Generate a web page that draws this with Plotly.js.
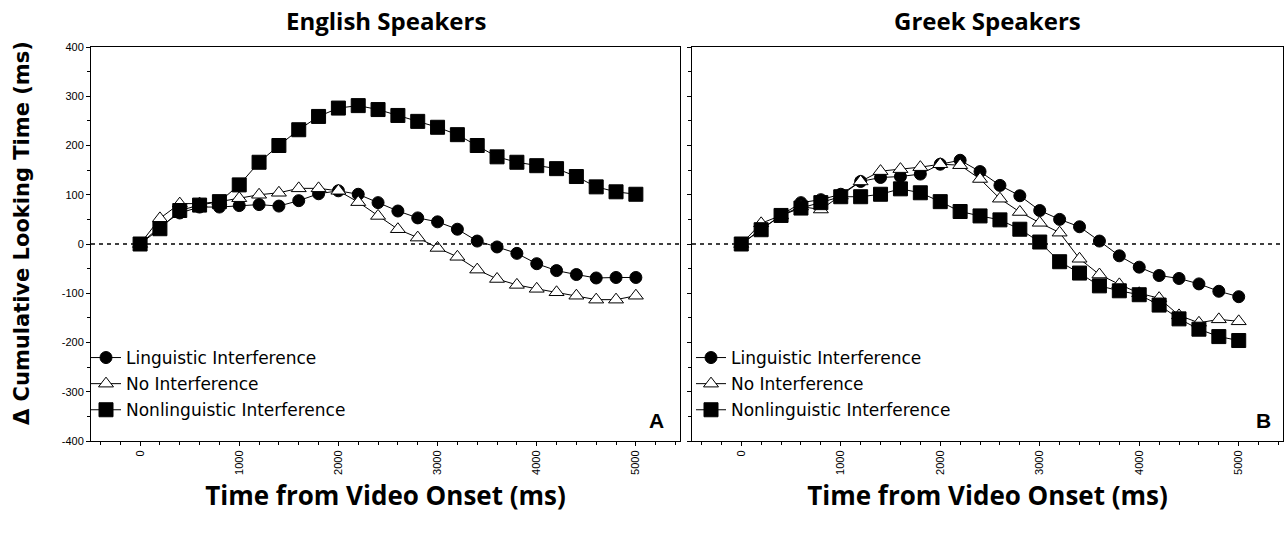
<!DOCTYPE html>
<html>
<head>
<meta charset="utf-8">
<script src="https://cdn.plot.ly/plotly-3.0.1.min.js"></script>
<style>html,body{margin:0;padding:0;background:#fff}#chart{width:1286px;height:535px}</style>
</head>
<body>
<div id="chart"></div>
<script>
// Time bins (ms)
const timeMs = [0,200,400,600,800,1000,1200,1400,1600,1800,2000,2200,2400,2600,2800,3000,3200,3400,3600,3800,4000,4200,4400,4600,4800,5000];

// English speakers
const engLinguistic    = [0,35,63,75,75,78,80,77,88,102,108,101,84,67,53,45,30,6,-6,-19,-40,-54,-62,-69,-68,-68];
const engNoInterf      = [0,52,82,82,86,93,100,104,113,113,108,85,57,30,13,-8,-26,-52,-71,-83,-91,-98,-105,-113,-113,-105];
const engNonlinguistic = [0,31,68,79,86,120,166,200,232,259,276,281,273,261,249,237,222,200,177,166,159,153,137,116,106,101];

// Greek speakers
const grkLinguistic    = [0,30,58,84,90,101,127,135,137,142,162,170,147,119,98,68,50,35,6,-24,-47,-64,-70,-81,-96,-107];
const grkNoInterf      = [0,42,58,76,70,98,127,148,152,156,162,160,132,92,65,43,23,-30,-62,-82,-100,-110,-145,-160,-153,-157];
const grkNonlinguistic = [0,29,58,73,84,96,96,101,112,104,86,66,57,49,30,4,-36,-59,-85,-95,-103,-124,-152,-173,-188,-196];

const seriesNames = ["Linguistic Interference","No Interference","Nonlinguistic Interference"];
const panelTitles = ["English Speakers","Greek Speakers"];
const panelLetters = ["A","B"];
const yTitle = "\u0394 Cumulative Looking Time (ms)";
const xTitle = "Time from Video Onset (ms)";
const yTickVals = [-400,-300,-200,-100,0,100,200,300,400];
const yTickText = ["-400","-300","-200","-100","0","100","200","300","400"];
const xTickVals = [0,1000,2000,3000,4000,5000];
const xTickText = ["0","1000","2000","3000","4000","5000"];

const styles = [
  {symbol:"circle", size:12, color:"#000", line:{color:"#000",width:1}},
  {symbol:"triangle-up", size:13, color:"#fff", line:{color:"#000",width:1}},
  {symbol:"square", size:14, color:"#000", line:{color:"#000",width:1}}
];

function makeTraces(vals, xa, ya, leg, prefix){
  return vals.map((v,i)=>({
    type:"scatter", mode:"lines+markers", x:timeMs, y:v, xaxis:xa, yaxis:ya,
    name:seriesNames[i], legend:leg, legendgroup:prefix+i,
    line:{color:"#000",width:1}, marker:styles[i], cliponaxis:false
  }));
}

const data = [
  ...makeTraces([engLinguistic,engNoInterf,engNonlinguistic],"x","y","legend","e"),
  ...makeTraces([grkLinguistic,grkNoInterf,grkNonlinguistic],"x2","y2","legend2","g")
];

const W=1286,H=535;
const yDom=[(H-441)/H,(H-47)/H];
const xDom1=[91/W,680/W], xDom2=[692/W,1283/W];
const tickFont={family:"Liberation Sans, Arial, sans-serif",size:11,color:"#000"};
const titleFontX={family:"Open Sans, sans-serif",size:26,color:"#000",weight:"bold"};

function xAxis(dom,anchor){
  return {domain:dom, anchor:anchor, range:[-495,5445], tickvals:xTickVals, ticktext:xTickText,
    tickangle:-90, ticks:"outside", ticklen:4, tickcolor:"#000", tickfont:tickFont,
    minor:{dtick:200, tick0:0, ticks:"outside", ticklen:3, tickcolor:"#000", showgrid:false},
    showline:true, linecolor:"#000", linewidth:1, mirror:true, showgrid:false, zeroline:false,
    title:{text:xTitle, font:titleFontX, standoff:12}};
}
function yAxis(dom,anchor,labels){
  return {domain:dom, anchor:anchor, range:[-400,400], tickvals:yTickVals, ticktext:yTickText, showticklabels:labels,
    ticks:"outside", ticklen:4, tickcolor:"#000", tickfont:tickFont,
    minor:{dtick:50, tick0:0, ticks:"outside", ticklen:3, tickcolor:"#000", showgrid:false},
    showline:true, linecolor:"#000", linewidth:1, mirror:true, showgrid:false, zeroline:false};
}

const legendBase = {font:{family:"DejaVu Sans, sans-serif",size:17,color:"#000"},
  bgcolor:"rgba(0,0,0,0)", borderwidth:0, itemwidth:30, tracegroupgap:1, yanchor:"top", xanchor:"left"};

const titleFont = {family:"Open Sans, sans-serif",size:24,color:"#000",weight:"bold"};
const letterFont = {family:"Liberation Sans, Arial, sans-serif",size:21,color:"#000",weight:"bold"};

const layout = {
  width:W, height:H, margin:{l:0,r:0,t:0,b:0}, paper_bgcolor:"#fff", plot_bgcolor:"#fff",
  xaxis:xAxis(xDom1,"y"), yaxis:yAxis(yDom,"x",true),
  xaxis2:xAxis(xDom2,"y2"), yaxis2:yAxis(yDom,"x2",false),
  legend:Object.assign({x:86/W, y:(H-340)/H}, legendBase),
  legend2:Object.assign({x:691/W, y:(H-340)/H}, legendBase),
  shapes:[
    {type:"line", xref:"x domain", yref:"y", x0:0, x1:1, y0:0, y1:0, line:{color:"#000",width:1.3,dash:"4px,4px"}},
    {type:"line", xref:"x2 domain", yref:"y2", x0:0, x1:1, y0:0, y1:0, line:{color:"#000",width:1.3,dash:"4px,4px"}}
  ],
  annotations:[
    {text:yTitle, xref:"paper", yref:"paper", x:22/W, y:(H-233)/H, xanchor:"center", yanchor:"middle", textangle:-90, showarrow:false,
      font:{family:"DejaVu Sans, sans-serif",size:21,color:"#000",weight:"bold"}},
    {text:panelTitles[0], xref:"paper", yref:"paper", x:(xDom1[0]+xDom1[1])/2, y:(H-20)/H, xanchor:"center", yanchor:"middle", showarrow:false, font:titleFont},
    {text:panelTitles[1], xref:"paper", yref:"paper", x:(xDom2[0]+xDom2[1])/2, y:(H-20)/H, xanchor:"center", yanchor:"middle", showarrow:false, font:titleFont},
    {text:panelLetters[0], xref:"paper", yref:"paper", x:656/W, y:(H-420)/H, xanchor:"center", yanchor:"middle", showarrow:false, font:letterFont},
    {text:panelLetters[1], xref:"paper", yref:"paper", x:1263/W, y:(H-420)/H, xanchor:"center", yanchor:"middle", showarrow:false, font:letterFont}
  ],
  showlegend:true
};

Plotly.newPlot("chart", data, layout, {displayModeBar:false, staticPlot:true});
</script>
</body>
</html>
